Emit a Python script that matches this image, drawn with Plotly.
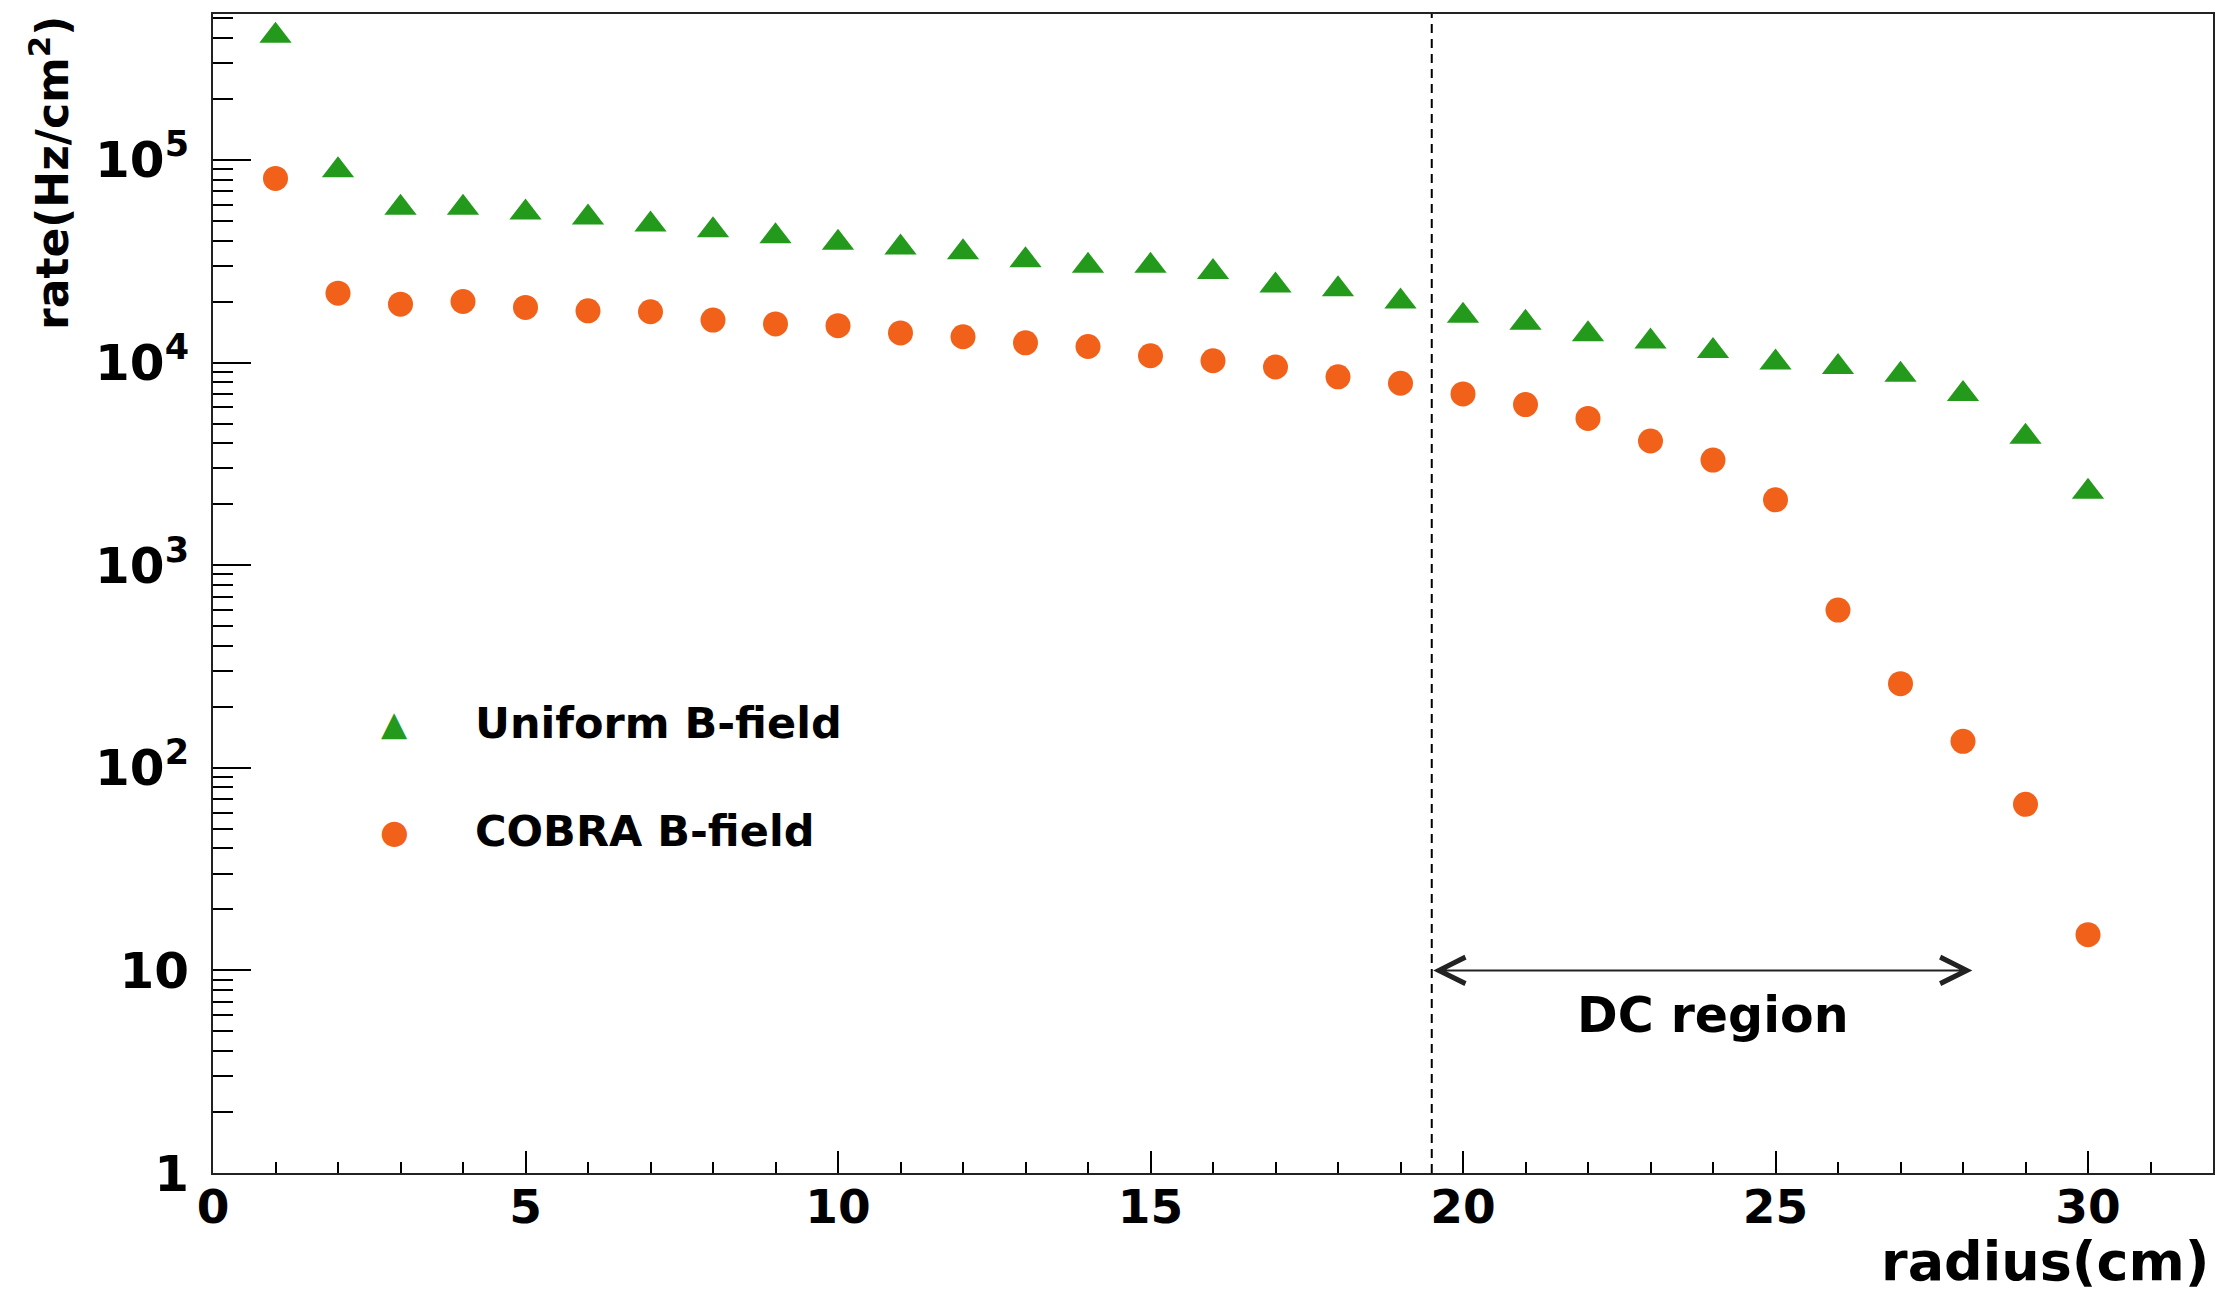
import numpy as np
import plotly.graph_objects as go

# ---- data ----
radius = list(range(1, 31))
uniform_rate = [4.1e5, 8.9e4, 5.8e4, 5.8e4, 5.5e4, 5.2e4, 4.8e4, 4.5e4, 4.2e4, 3.9e4,
                3.7e4, 3.5e4, 3.2e4, 3.0e4, 3.0e4, 2.8e4, 2.4e4, 2.3e4, 2.0e4, 1.7e4,
                1.57e4, 1.38e4, 1.27e4, 1.14e4, 1.0e4, 9.5e3, 8.7e3, 7.0e3, 4.3e3, 2.3e3]
cobra_rate = [8.1e4, 2.2e4, 1.94e4, 2.0e4, 1.87e4, 1.8e4, 1.78e4, 1.62e4, 1.55e4, 1.52e4,
              1.4e4, 1.34e4, 1.25e4, 1.2e4, 1.08e4, 1.02e4, 9.5e3, 8.5e3, 7.9e3, 7.0e3,
              6.2e3, 5.3e3, 4.1e3, 3.3e3, 2.1e3, 600, 260, 135, 66, 15]
series_names = ["Uniform B-field", "COBRA B-field"]
legend_glyphs = ["\u25B2", "\u25CF"]

y_tickvals = [1, 10, 100, 1000, 1e4, 1e5]
y_ticktext = ["1", "10", "10<sup>2</sup>", "10<sup>3</sup>", "10<sup>4</sup>", "10<sup>5</sup>"]
x_tickvals = [0, 5, 10, 15, 20, 25, 30]

dc_start = 19.5
dc_end = 28.15
dc_arrow_y = 10
dc_label_x = 24.0
dc_label_y = 6.0

FONT = "DejaVu Sans"
GREEN = "#239a1c"
ORANGE = "#f2611a"
colors = [GREEN, ORANGE]

W, H = 2227, 1293
fig = go.Figure()
fig.add_trace(go.Scatter(
    x=radius, y=uniform_rate, mode="markers", name=series_names[0], showlegend=False,
    marker=dict(symbol="triangle-up", size=28, color=GREEN, line=dict(width=0)),
))
fig.add_trace(go.Scatter(
    x=radius, y=cobra_rate, mode="markers", name=series_names[1], showlegend=False,
    marker=dict(symbol="circle", size=25, color=ORANGE, line=dict(width=0)),
))

minor_y = [k * 10 ** d for d in range(0, 6) for k in range(2, 10)]

fig.update_layout(
    width=W, height=H,
    margin=dict(l=213, r=12, t=14, b=120),
    paper_bgcolor="white", plot_bgcolor="white",
    font=dict(family=FONT, size=50, color="black", weight="bold"),
    showlegend=False,
    xaxis=dict(
        range=[0, 32], showgrid=False, zeroline=False,
        tickmode="array", tickvals=x_tickvals,
        ticks="inside", ticklen=22, tickwidth=2, tickcolor="black",
        showline=True, linecolor="#222", linewidth=2, mirror=True,
        ticklabelstandoff=-8,
        minor=dict(ticks="inside", ticklen=11, tickwidth=2, tickcolor="black",
                   dtick=1, showgrid=False),
        tickfont=dict(family=FONT, size=47, weight="bold"),
    ),
    yaxis=dict(
        type="log", range=[0, 5.72], showgrid=False, zeroline=False,
        tickmode="array", tickvals=y_tickvals, ticktext=y_ticktext,
        ticks="inside", ticklen=38, tickwidth=2, tickcolor="black",
        showline=True, linecolor="#222", linewidth=2, mirror=True,
        ticklabelstandoff=12,
        minor=dict(ticks="inside", ticklen=20, tickwidth=2, tickcolor="black",
                   tickmode="array", tickvals=minor_y, showgrid=False),
        tickfont=dict(family=FONT, size=50, weight="bold"),
    ),
)

# legend drawn as text (ROOT TLegend style, large symbols)
legend_rows_y = [0.388, 0.295]
glyph_sizes = [34, 33]
for name, glyph, col, yy, gs in zip(series_names, legend_glyphs, colors, legend_rows_y, glyph_sizes):
    fig.add_annotation(x=0.0909, y=yy, xref="paper", yref="paper", text=glyph,
                       showarrow=False, xanchor="center", yanchor="middle",
                       font=dict(family=FONT, size=gs, color=col))
    fig.add_annotation(x=0.1299, y=yy, xref="paper", yref="paper", text=name,
                       showarrow=False, xanchor="left", yanchor="middle",
                       font=dict(family=FONT, size=43, color="black", weight="bold"))

# vertical dashed line marking DC region start
fig.add_shape(type="line", xref="x", yref="paper", x0=dc_start, x1=dc_start, y0=0, y1=1,
              line=dict(color="black", width=2, dash="9px,6px"))

# double arrow for DC region
fig.add_annotation(
    x=dc_end, y=np.log10(dc_arrow_y), ax=dc_start, ay=np.log10(dc_arrow_y),
    xref="x", yref="y", axref="x", ayref="y",
    showarrow=True, arrowhead=5, startarrowhead=5, arrowside="end+start",
    arrowsize=2.6, startarrowsize=2.6, arrowwidth=2, arrowcolor="#222", text="",
)
fig.add_annotation(
    x=dc_label_x, y=np.log10(dc_label_y), xref="x", yref="y",
    text="DC region", showarrow=False, xanchor="center", yanchor="middle",
    font=dict(family=FONT, size=49, color="black", weight="bold"),
)

# axis titles (ROOT style: aligned to the end of the axes)
fig.add_annotation(
    x=1, y=-0.076, xref="paper", yref="paper", xanchor="right", yanchor="middle",
    text="radius(cm)", showarrow=False, xshift=-2,
    font=dict(family=FONT, size=54, color="black", weight="bold"),
)
fig.add_annotation(
    x=-0.082, y=1, xref="paper", yref="paper", xanchor="center", yanchor="top",
    text="rate(Hz/cm<sup>2</sup>)", showarrow=False, textangle=-90,
    font=dict(family=FONT, size=44, color="black", weight="bold"),
)

fig.write_html("out.html", config={"displayModeBar": False},
               post_script="document.body.style.margin='0';")
